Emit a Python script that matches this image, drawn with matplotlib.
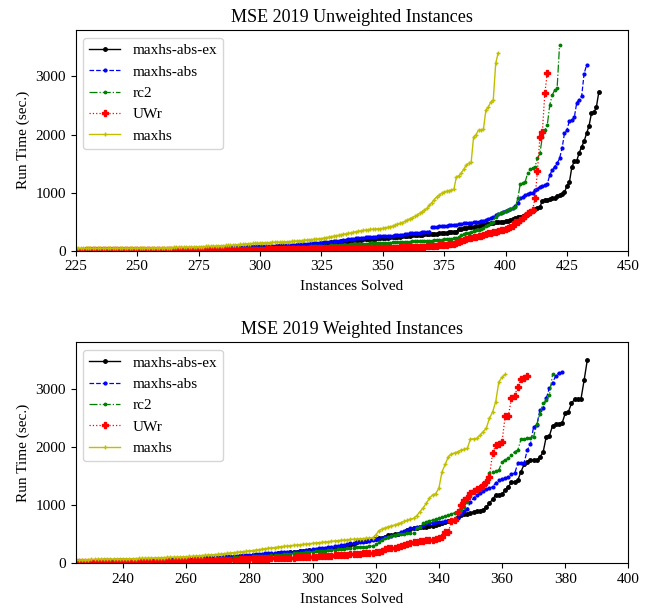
import matplotlib
matplotlib.use("Agg")
import matplotlib.pyplot as plt

plt.rcParams['font.family'] = ['Liberation Serif', 'DejaVu Serif']
plt.rcParams['font.size'] = 11

# ---------------- Unweighted (instances solved from 225 onward) ----------------
UW_START = 225
uw_maxhs_abs_ex = [
    10,10,11,11,11,12,12,12,13,13,
    13,13,14,14,14,15,15,15,15,16,
    16,16,17,17,17,18,18,19,19,20,
    20,21,21,22,22,23,23,24,24,25,
    25,26,26,27,27,28,28,29,29,30,
    31,32,33,34,35,36,37,38,40,41,
    42,44,45,46,48,50,51,52,54,55,
    56,57,58,59,60,62,64,66,68,70,
    71,72,74,76,77,79,81,83,85,88,
    91,94,97,100,103,106,110,114,118,122,
    127,131,135,139,143,147,151,155,159,163,
    167,171,175,179,182,186,190,194,197,200,
    203,206,209,212,215,218,221,224,228,232,
    236,240,244,248,252,256,260,264,268,272,
    275,278,281,284,287,290,293,296,300,304,
    308,312,316,320,324,330,370,378,385,392,
    400,406,413,420,428,435,445,454,462,470,
    480,488,495,500,503,507,511,525,540,556,
    574,586,600,614,640,670,690,717,735,757,
    860,870,880,890,900,912,940,960,975,1004,
    1118,1177,1440,1540,1550,1686,1790,1887,2020,2150,
    2370,2380,2477,2735]
uw_maxhs_abs = [
    15,15,16,16,16,17,17,17,18,18,
    18,19,19,19,20,20,20,21,21,21,
    21,22,22,22,22,23,23,24,24,25,
    25,26,26,27,27,28,28,29,29,30,
    30,31,31,32,32,33,33,34,34,35,
    36,37,38,40,42,44,46,48,50,52,
    54,56,57,58,60,61,62,64,65,66,
    68,69,70,72,74,75,77,79,81,83,
    84,86,88,90,92,94,96,98,100,103,
    106,109,112,115,118,122,126,130,134,138,
    141,144,148,152,156,160,165,170,176,184,
    189,194,199,204,213,218,222,226,230,234,
    238,241,243,245,247,249,252,255,258,262,
    266,270,274,278,282,289,299,303,307,310,
    313,316,320,324,330,400,410,415,420,425,
    430,434,438,442,446,450,459,465,470,475,
    478,482,488,494,499,505,515,528,545,565,
    585,610,630,643,671,690,700,712,729,769,
    815,900,929,960,980,990,1000,1044,1070,1101,
    1115,1130,1147,1302,1388,1450,1503,1589,1761,2019,
    2076,2240,2248,2295,2550,2600,2661,3051,3195]
uw_rc2 = [
    8,8,8,9,9,9,9,10,10,10,
    10,10,11,11,11,11,11,12,12,12,
    12,12,12,12,13,13,13,14,14,15,
    15,15,16,16,17,17,17,18,18,19,
    19,19,20,20,21,21,21,22,22,22,
    23,24,25,26,27,28,29,30,31,32,
    33,34,35,36,37,38,39,40,41,42,
    43,44,44,45,45,46,47,48,49,50,
    51,52,53,54,55,56,57,58,60,61,
    63,64,66,67,69,71,73,75,77,79,
    81,83,85,87,90,93,95,98,100,103,
    105,107,109,111,113,115,117,119,121,124,
    126,127,129,131,133,135,137,139,141,143,
    145,147,149,151,153,155,157,159,161,163,
    165,167,169,171,173,176,180,184,188,192,
    196,200,204,208,211,213,240,265,285,299,
    310,325,339,350,362,373,395,420,442,470,
    499,585,630,650,660,680,695,712,729,750,
    900,1150,1170,1187,1331,1400,1420,1445,1589,1675,
    1960,2076,2162,2507,2678,2765,2794,3544]
uw_uwr = [
    3,3,3,3,4,4,4,4,4,4,
    5,5,5,5,5,5,5,6,6,6,
    6,6,6,6,6,6,6,7,7,7,
    7,7,7,8,8,8,8,8,9,9,
    9,9,9,9,10,10,10,10,10,10,
    10,11,11,12,12,13,13,14,14,15,
    15,16,16,17,17,18,18,18,19,19,
    19,19,20,20,20,20,21,21,22,22,
    23,23,24,24,25,25,26,27,28,29,
    30,30,31,32,32,33,34,35,36,37,
    37,38,38,39,40,40,41,42,42,43,
    43,44,44,45,45,46,46,47,47,48,
    48,49,49,50,50,51,51,52,52,53,
    54,55,56,57,58,59,60,62,64,66,
    68,70,72,75,78,81,84,87,91,95,
    100,106,112,118,123,127,145,167,182,196,
    213,222,232,241,252,262,274,287,297,305,
    315,327,338,349,360,373,385,400,420,494,
    499,525,557,600,643,670,700,901,1376,1961,
    2047,2708,3062]
uw_maxhs = [
    40,40,40,41,41,41,42,42,42,42,
    43,43,43,44,44,44,45,45,45,46,
    46,46,47,47,47,47,48,48,49,49,
    50,50,51,51,52,52,53,53,54,55,
    56,57,58,59,60,61,62,64,65,66,
    68,70,72,74,76,78,80,82,84,86,
    88,90,92,94,96,100,104,108,112,116,
    120,123,125,128,130,132,135,137,139,141,
    143,145,147,149,151,153,155,158,161,165,
    168,172,176,180,184,188,192,196,200,205,
    210,218,226,234,242,250,258,266,274,282,
    290,298,306,314,327,335,342,349,355,361,
    366,370,374,378,380,385,395,404,413,425,
    440,455,470,485,505,528,550,570,590,615,
    643,670,700,729,780,830,880,929,960,990,
    1010,1025,1035,1044,1060,1273,1290,1340,1400,1474,
    1503,1520,1961,2000,2076,2080,2090,2420,2477,2560,
    2592,3224,3406]

# ---------------- Weighted (instances solved from 225 onward) ----------------
W_START = 225
w_maxhs_abs_ex = [
    35,36,37,38,39,40,41,42,43,44,
    45,46,47,48,49,50,51,52,53,54,
    55,56,57,58,59,60,62,63,65,66,
    68,69,70,72,73,74,76,78,80,82,
    84,86,88,90,92,95,98,101,104,108,
    112,116,120,124,128,132,136,140,145,150,
    155,158,162,166,170,174,180,186,192,196,
    200,205,211,217,223,229,234,240,246,252,
    256,262,268,275,285,300,310,314,340,371,
    378,383,390,400,410,420,430,440,460,480,
    490,500,508,515,540,570,590,601,610,620,
    625,629,640,650,658,680,700,715,725,735,
    744,800,830,842,850,859,887,895,905,916,
    960,1031,1105,1174,1180,1191,1259,1316,1392,1402,
    1431,1574,1701,1740,1775,1775,1775,1832,1907,2175,
    2193,2365,2388,2400,2405,2577,2605,2749,2823,2823,
    2823,3149,3493]
w_maxhs_abs = [
    40,41,42,43,44,45,46,47,48,49,
    50,51,52,53,54,55,56,57,58,59,
    60,61,62,63,64,65,66,67,68,69,
    70,71,72,73,74,75,78,81,84,87,
    90,93,96,99,102,106,110,114,118,122,
    126,130,134,138,142,146,150,155,160,165,
    170,174,178,182,186,189,192,194,196,198,
    200,208,216,224,232,240,248,256,264,272,
    280,286,296,305,314,322,332,344,352,360,
    366,371,380,390,400,410,420,430,445,458,
    470,486,510,535,560,580,601,610,620,629,
    660,687,692,698,705,710,716,720,722,727,
    760,784,850,905,933,1059,1117,1174,1203,1248,
    1270,1289,1316,1380,1431,1445,1460,1488,1540,1546,
    1718,1718,1730,1947,2045,2347,2376,2635,2663,2835,
    3017,3103,3223,3276,3282]
w_rc2 = [
    30,31,32,33,34,35,36,37,38,39,
    40,41,42,43,44,45,46,47,48,49,
    50,51,52,53,54,55,55,56,57,58,
    58,59,60,61,62,63,65,67,69,71,
    73,75,77,80,83,86,89,92,95,98,
    101,104,107,110,113,116,119,122,125,128,
    131,134,137,140,145,150,155,160,165,170,
    175,180,185,190,195,200,205,210,215,220,
    225,230,236,242,248,254,260,266,270,275,
    280,284,288,292,296,330,370,401,430,458,
    478,490,498,505,510,515,515,520,600,629,
    690,716,730,744,760,775,790,810,830,850,
    870,887,930,973,1059,1150,1259,1290,1316,1345,
    1400,1546,1574,1590,1603,1746,1780,1804,1860,1918,
    1947,2130,2140,2150,2159,2176,2388,2570,2749,2806,
    2892,3247]
w_uwr = [
    15,15,16,16,17,17,18,18,19,19,
    20,20,21,21,22,22,23,23,24,25,
    26,27,28,29,30,31,32,33,34,35,
    36,37,38,39,40,40,41,42,43,44,
    45,46,47,48,50,52,54,56,58,60,
    62,64,66,68,70,72,74,76,78,80,
    81,82,83,84,85,87,90,93,96,99,
    103,105,107,109,111,114,117,120,123,126,
    129,132,135,138,142,146,150,155,160,164,
    168,172,176,180,186,192,200,220,240,258,
    265,272,286,300,314,330,344,360,371,380,
    390,395,398,401,420,441,458,540,545,720,
    740,880,1002,1088,1127,1203,1242,1283,1300,1345,
    1402,1488,1890,2032,2060,2089,2530,2536,2835,2880,
    3035,3170,3178,3223]
w_maxhs = [
    57,58,60,62,64,66,68,69,70,71,
    72,73,74,75,76,77,78,79,80,82,
    84,86,88,90,92,94,96,98,100,102,
    104,106,108,110,112,114,118,122,126,130,
    134,138,142,146,150,155,160,166,172,178,
    184,190,196,202,208,214,220,228,236,244,
    252,260,266,272,280,286,292,298,304,310,
    314,320,326,332,338,344,350,356,362,368,
    374,380,385,390,395,401,405,410,414,418,
    422,426,430,436,441,486,560,590,610,630,
    645,658,680,700,720,740,760,773,820,887,
    950,1030,1117,1174,1200,1289,1574,1700,1832,1880,
    1900,1918,1947,1960,1976,2136,2140,2148,2200,2262,
    2320,2491,2600,2777,3120,3200,3247]

labels = ['maxhs-abs-ex', 'maxhs-abs', 'rc2', 'UWr', 'maxhs']
uw_tick_labels = [225, 250, 275, 300, 325, 350, 375, 400, 425, 450]
w_tick_labels = [240, 260, 280, 300, 320, 340, 360, 380, 400]
y_tick_labels = [0, 1000, 2000, 3000]

styles = [
    dict(color='k', linestyle='-', marker='.', markersize=5.0, linewidth=1.0),
    dict(color='b', linestyle='--', marker='.', markersize=4.0, linewidth=0.9),
    dict(color='g', linestyle='-.', marker='.', markersize=3.5, linewidth=0.9),
    dict(color='r', linestyle=':', marker='P', markersize=4.5, linewidth=0.9),
    dict(color='y', linestyle='-', marker='+', markersize=2.5, linewidth=1.0),
]

fig = plt.figure(figsize=(6.52, 6.09), dpi=100)
ax1 = fig.add_axes([0.1161, 0.5883, 0.8476, 0.3624])
ax2 = fig.add_axes([0.1161, 0.0750, 0.8476, 0.3629])


def draw(ax, series, start, title, xlim, xticks):
    for ys, lab, st in zip(series, labels, styles):
        xs = list(range(start, start + len(ys)))
        ax.plot(xs, ys, label=lab, **st)
    ax.set_xlim(*xlim)
    ax.set_ylim(0, 3800)
    ax.set_xticks(xticks)
    ax.set_yticks(y_tick_labels)
    ax.set_title(title, fontsize=13)
    ax.set_xlabel('Instances Solved', labelpad=5)
    ax.set_ylabel('Run Time (sec.)')
    ax.legend(loc='upper left', fontsize=11)


draw(ax1, [uw_maxhs_abs_ex, uw_maxhs_abs, uw_rc2, uw_uwr, uw_maxhs], UW_START,
     'MSE 2019 Unweighted Instances', (225, 450), uw_tick_labels)
draw(ax2, [w_maxhs_abs_ex, w_maxhs_abs, w_rc2, w_uwr, w_maxhs], W_START,
     'MSE 2019 Weighted Instances', (225, 400), w_tick_labels)

fig.savefig('out.png', dpi=100)
